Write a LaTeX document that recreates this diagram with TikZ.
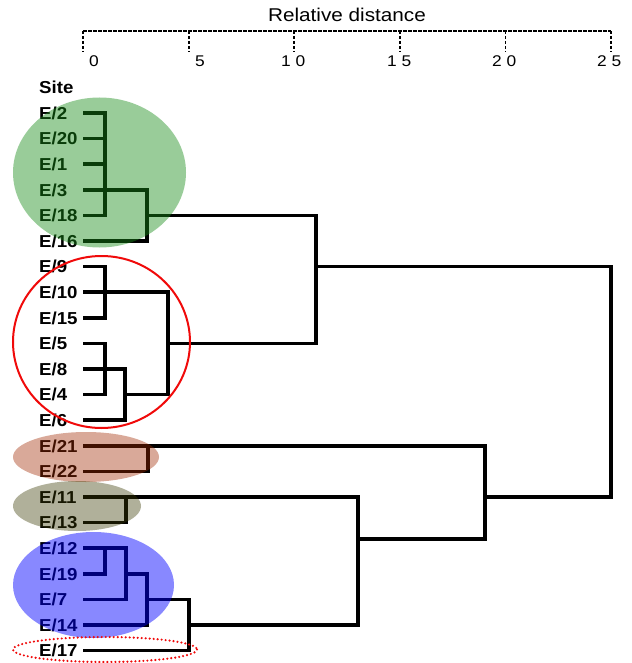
\documentclass[tikz,border=0pt]{standalone}
\usepackage{fontspec}
\setmainfont{Liberation Sans}
\newfontfamily\lblfont[FakeStretch=1.08]{Liberation Sans}
\newfontfamily\axfont[FakeStretch=1.12]{Liberation Sans}
\definecolor{gfill}{RGB}{23,139,23}
\definecolor{bfill}{RGB}{160,40,0}
\definecolor{ofill}{RGB}{58,58,3}
\definecolor{ufill}{RGB}{2,2,255}
\definecolor{rline}{RGB}{240,10,10}
\tikzset{
  dl/.style={line width=3.7pt, line join=miter, black},
  lbl/.style={font=\lblfont\bfseries\fontsize{17.3}{19}\selectfont, anchor=base west, inner sep=0pt},
  axl/.style={line width=1.8pt, dash pattern=on 3.5pt off 1.5pt},
  axnum/.style={font=\axfont\fontsize{15.5}{17}\selectfont, anchor=base west, inner sep=0pt},
  blob/.style={fill opacity=#1, draw=none}
}
\begin{document}
\begin{tikzpicture}[x=1pt,y=-1pt]
\useasboundingbox (0,0) rectangle (631,663);
% axis
\node[font=\axfont\fontsize{18.5}{20}\selectfont, anchor=base, inner sep=0pt] (title) at (347,22) {Relative distance};
\foreach \k [count=\j from 0] in {0,5,10,15,20,25} {
  \coordinate (t\j) at ({83+105.6*\j},31);
  \coordinate (b\j) at ({83+105.6*\j},52);
}
\draw[axl] (t0) -- (t5);
\foreach \j in {0,...,5} \draw[axl] (t\j) -- (b\j);
\node[axnum] (n0) at (89,66.5) {0};
\node[axnum] (n1) at (195,66.5) {5};
\node[axnum] (n2) at (281,66.5) {1 0};
\node[axnum] (n3) at (387,66.5) {1 5};
\node[axnum] (n4) at (492,66.5) {2 0};
\node[axnum] (n5) at (597,66.5) {2 5};
% labels
\node[lbl] (site) at (39,93.6) {Site};
\foreach \t [count=\i from 0] in {E/2,E/20,E/1,E/3,E/18,E/16,E/9,E/10,E/15,E/5,E/8,E/4,E/6,E/21,E/22,E/11,E/13,E/12,E/19,E/7,E/14,E/17} {
  \node[lbl] (l\i) at (39,{113+25.6*\i+6.2}) {\t};
  \coordinate (s\i) at (83,{113+25.6*\i});
}
% x levels
\foreach \v in {105,125,126,147,148,168,189,316,358,485,611} \coordinate (x\v) at (\v,0);
\coordinate (jn) at (0,539);
% green
\draw[dl] (s0) -- (s0-|x105) -- (s4-|x105) -- (s4);
\draw[dl] (s1) -- (s1-|x105);
\draw[dl] (s2) -- (s2-|x105);
\draw[dl] (s3) -- (s3-|x147) -- (s5-|x147) -- (s5);
\draw[dl] (s4-|x147) -- (s4-|x316) -- (s9-|x316) -- (s9-|x168);
\draw[dl] (s6-|x316) -- (s6-|x611) -- (s15-|x611) -- (s15-|x485);
% red
\draw[dl] (s6) -- (s6-|x105) -- (s8-|x105) -- (s8);
\draw[dl] (s7) -- (s7-|x168) -- (s11-|x168) -- (s11-|x125);
\draw[dl] (s9) -- (s9-|x105) -- (s11-|x105) -- (s11);
\draw[dl] (s10) -- (s10-|x125) -- (s12-|x125) -- (s12);
% bottom
\draw[dl] (s13) -- (s13-|x485) -- (jn-|x485) -- (jn-|x358);
\draw[dl] (s14) -- (s14-|x148) -- (s13-|x148);
\draw[dl] (s15) -- (s15-|x358) -- (s20-|x358) -- (s20-|x189);
\draw[dl] (s16) -- (s16-|x126) -- (s15-|x126);
% blue
\draw[dl] (s17) -- (s17-|x126) -- (s19-|x126) -- (s19);
\draw[dl] (s18) -- (s18-|x105) -- (s17-|x105);
\draw[dl] (s18-|x126) -- (s18-|x147) -- (s20-|x147) -- (s20);
\draw[dl] (s19-|x147) -- (s19-|x189) -- (s21-|x189) -- (s21);
% cluster highlights
\fill[gfill, blob=0.44] (99.5,172.5) ellipse [x radius=86.5, y radius=75];
\fill[bfill, blob=0.4] (86,457) ellipse [x radius=73, y radius=25];
\fill[ofill, blob=0.4] (77,506) ellipse [x radius=64, y radius=25];
\fill[ufill, blob=0.47] (93.5,585) ellipse [x radius=80.5, y radius=53];
\draw[rline, line width=2pt] (101.5,342) ellipse [x radius=88.5, y radius=86];
\draw[rline, line width=2.4pt, line cap=round, dash pattern=on 0pt off 4pt] (105,649.5) ellipse [x radius=92, y radius=12.5];
\end{tikzpicture}
\end{document}
